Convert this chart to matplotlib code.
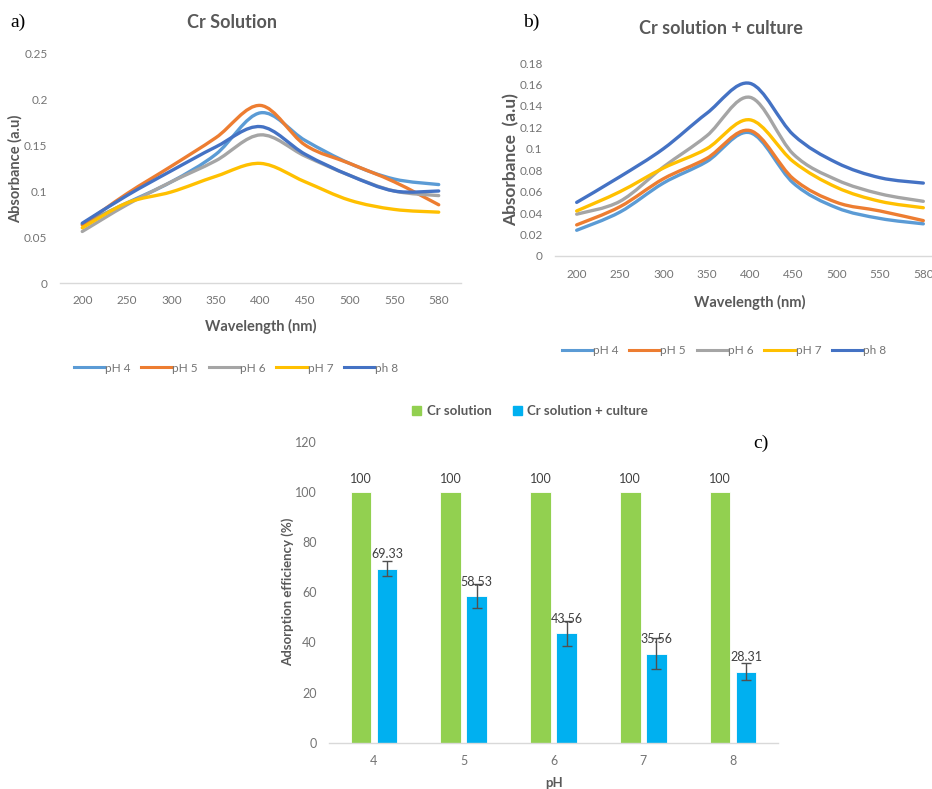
import matplotlib
matplotlib.use("Agg")
import matplotlib.pyplot as plt
from matplotlib.path import Path
from matplotlib.patches import PathPatch
from matplotlib.lines import Line2D
import numpy as np

plt.rcParams["font.family"] = ["Lato", "DejaVu Sans"]

# ---------------------------------------------------------------- data
wavelengths = ["200", "250", "300", "350", "400", "450", "500", "550", "580"]
series_names = ["pH 4", "pH 5", "pH 6", "pH 7", "ph 8"]

# (a) Cr solution
sol_ph4 = [0.064, 0.087, 0.110, 0.140, 0.185, 0.155, 0.130, 0.113, 0.107]
sol_ph5 = [0.063, 0.097, 0.127, 0.158, 0.193, 0.150, 0.130, 0.110, 0.085]
sol_ph6 = [0.056, 0.085, 0.110, 0.133, 0.161, 0.138, 0.117, 0.100, 0.095]
sol_ph7 = [0.060, 0.087, 0.099, 0.116, 0.130, 0.110, 0.090, 0.080, 0.077]
sol_ph8 = [0.065, 0.095, 0.122, 0.148, 0.170, 0.140, 0.117, 0.100, 0.100]

# (b) Cr solution + culture
cul_ph4 = [0.024, 0.041, 0.068, 0.088, 0.115, 0.068, 0.045, 0.035, 0.030]
cul_ph5 = [0.029, 0.046, 0.072, 0.091, 0.117, 0.072, 0.050, 0.042, 0.033]
cul_ph6 = [0.039, 0.051, 0.083, 0.112, 0.148, 0.095, 0.071, 0.058, 0.051]
cul_ph7 = [0.042, 0.060, 0.082, 0.100, 0.127, 0.088, 0.064, 0.051, 0.045]
cul_ph8 = [0.050, 0.074, 0.100, 0.133, 0.161, 0.113, 0.087, 0.073, 0.068]

# (c) adsorption efficiency
ph_levels = ["4", "5", "6", "7", "8"]
eff_solution = [100, 100, 100, 100, 100]
eff_culture = [69.33, 58.53, 43.56, 35.56, 28.31]
eff_culture_err = [3.0, 4.7, 5.0, 6.0, 3.3]

LINE_COLORS = ["#5B9BD5", "#ED7D31", "#A5A5A5", "#FFC000", "#4472C4"]
GREEN = "#92D050"
CYAN = "#00B0F0"
TICK = "#747474"
LABEL = "#595959"
AXIS = "#d9d9d9"


def smooth_path(y):
    """Excel-style smoothed line: cubic Bezier segments through each point."""
    x = np.arange(len(y), dtype=float)
    y = np.asarray(y, dtype=float)
    pts = np.column_stack([x, y])
    ext = np.vstack([pts[0], pts, pts[-1]])
    verts = [pts[0]]
    codes = [Path.MOVETO]
    for i in range(len(pts) - 1):
        p0, p1, p2, p3 = ext[i], ext[i + 1], ext[i + 2], ext[i + 3]
        verts += [p1 + (p2 - p0) / 6, p2 - (p3 - p1) / 6, p2]
        codes += [Path.CURVE4] * 3
    return Path(verts, codes)


def style_axis(ax):
    for side in ("top", "right", "left"):
        ax.spines[side].set_visible(False)
    ax.spines["bottom"].set_color(AXIS)
    ax.spines["bottom"].set_linewidth(1.0)
    ax.tick_params(axis="both", length=0, colors=TICK, labelsize=8.5)
    ax.tick_params(axis="y", pad=9)
    ax.tick_params(axis="x", pad=9)


def line_panel(ax, series, yticks, yfmt):
    for vals, color in zip(series, LINE_COLORS):
        ax.add_patch(PathPatch(smooth_path(vals), fill=False, edgecolor=color,
                               lw=2.4, capstyle="round", joinstyle="round"))
    ax.set_xlim(-0.5, len(wavelengths) - 0.5)
    ax.set_xticks(range(len(wavelengths)))
    ax.set_xticklabels(wavelengths)
    ax.set_ylim(yticks[0], yticks[-1])
    ax.set_yticks(yticks)
    ax.set_yticklabels(yfmt)
    style_axis(ax)


fig = plt.figure(figsize=(9.32, 7.89), dpi=100)
W, H = 932, 789


def axes_px(x0, y_top, x1, y_bot):
    return fig.add_axes([x0 / W, 1 - y_bot / H, (x1 - x0) / W, (y_bot - y_top) / H])


# -- (a)
ax1 = axes_px(60, 53, 461, 283)
line_panel(ax1, [sol_ph4, sol_ph5, sol_ph6, sol_ph7, sol_ph8],
           [0, 0.05, 0.10, 0.15, 0.20, 0.25],
           ["0", "0.05", "0.1", "0.15", "0.2", "0.25"])
fig.text(232 / W, 1 - 22 / H, "Cr Solution", ha="center", va="center",
         fontsize=13, fontweight="bold", color=LABEL)
fig.text(261 / W, 1 - 326 / H, "Wavelength (nm)", ha="center", va="center",
         fontsize=10.5, fontweight="bold", color=LABEL)
fig.text(15 / W, 1 - 169 / H, "Absorbance (a.u)", ha="center", va="center",
         rotation=90, fontsize=10.5, fontweight="bold", color=LABEL)

# -- (b)
ax2 = axes_px(555, 63, 945, 256)
line_panel(ax2, [cul_ph4, cul_ph5, cul_ph6, cul_ph7, cul_ph8],
           [0, 0.02, 0.04, 0.06, 0.08, 0.10, 0.12, 0.14, 0.16, 0.18],
           ["0", "0.02", "0.04", "0.06", "0.08", "0.1", "0.12", "0.14",
            "0.16", "0.18"])
fig.text(721 / W, 1 - 29 / H, "Cr solution + culture", ha="center",
         va="center", fontsize=13, fontweight="bold", color=LABEL)
fig.text(750 / W, 1 - 302 / H, "Wavelength (nm)", ha="center", va="center",
         fontsize=10.5, fontweight="bold", color=LABEL)
fig.text(511 / W, 1 - 160 / H, "Absorbance  (a.u)", ha="center", va="center",
         rotation=90, fontsize=12.5, fontweight="bold", color=LABEL)

# shared legend style for the two line panels
handles = [Line2D([], [], color=c, lw=2.2) for c in LINE_COLORS]
for cx, cy in ((236, 368), (724, 351)):
    fig.legend(handles, series_names, loc="center",
               bbox_to_anchor=(cx / W, 1 - cy / H), ncol=5, frameon=False,
               fontsize=8.5, handlelength=2.6, handletextpad=0.05,
               columnspacing=0.9, labelcolor=TICK)

# -- (c)
ax3 = axes_px(329, 441.7, 778, 742.7)
x = np.arange(len(ph_levels))
bw = 0.23
off = 0.145
ax3.bar(x - off, eff_solution, bw, color=GREEN, edgecolor="white", lw=0.6,
        zorder=2)
ax3.bar(x + off, eff_culture, bw, color=CYAN, edgecolor="white", lw=0.6,
        zorder=2)
ax3.errorbar(x + off, eff_culture, yerr=eff_culture_err, fmt="none",
             ecolor="#505050", elinewidth=1.0, capsize=3.5, capthick=1.0,
             zorder=3)
for xi, v in zip(x, eff_solution):
    ax3.annotate(f"{v:g}", (xi - off, v), xytext=(0, 5),
                 textcoords="offset points", ha="center", va="bottom",
                 fontsize=9, color="#404040")
for xi, v in zip(x, eff_culture):
    ax3.annotate(f"{v:.2f}", (xi + off, v), xytext=(0, 6),
                 textcoords="offset points", ha="center", va="bottom",
                 fontsize=9, color="#404040")
ax3.set_xlim(-0.5, len(ph_levels) - 0.5)
ax3.set_ylim(0, 120)
ax3.set_xticks(x)
ax3.set_xticklabels(ph_levels)
ax3.set_yticks(range(0, 121, 20))
style_axis(ax3)
ax3.tick_params(labelsize=9)
fig.text(554 / W, 1 - 783 / H, "pH", ha="center", va="center",
         fontsize=9.5, fontweight="bold", color=LABEL)
fig.text(288 / W, 1 - 592 / H, "Adsorption efficiency (%)", ha="center",
         va="center", rotation=90, fontsize=9.5, fontweight="bold",
         color=LABEL)
bar_handles = [plt.Rectangle((0, 0), 1, 1, color=GREEN),
               plt.Rectangle((0, 0), 1, 1, color=CYAN)]
fig.legend(bar_handles, ["Cr solution", "Cr solution + culture"],
           loc="center", bbox_to_anchor=(530 / W, 1 - 411 / H), ncol=2,
           frameon=False, handlelength=0.7, handleheight=0.7,
           handletextpad=0.4, columnspacing=1.6, labelcolor=LABEL,
           prop={"weight": "bold", "size": 9.5})

# panel letters
for txt, px, py in (("a)", 18, 22), ("b)", 531, 22), ("c)", 761, 443)):
    fig.text(px / W, 1 - py / H, txt, ha="center", va="center",
             fontsize=14, family="Liberation Serif", color="black")

fig.savefig("out.png", dpi=100)
